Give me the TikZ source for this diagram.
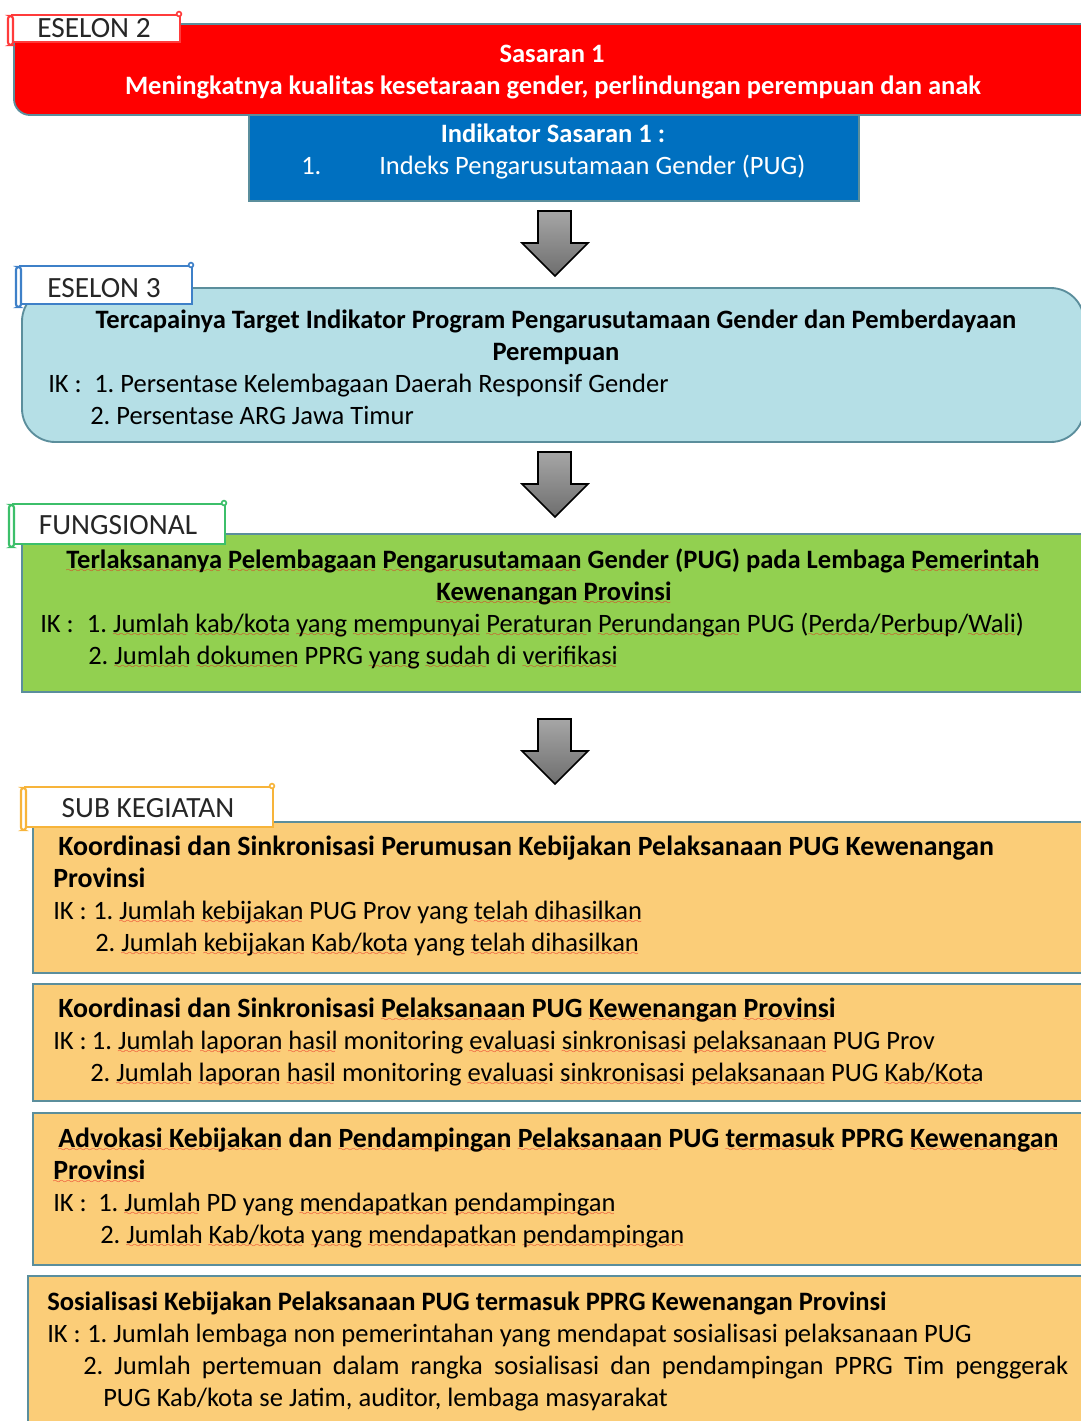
\documentclass[tikz,border=0pt]{standalone}
\usepackage{fontspec}
\setmainfont{Carlito}

\definecolor{frameline}{HTML}{5B8E9C}
\definecolor{redfill}{HTML}{FF0000}
\definecolor{bluefill}{HTML}{0070C0}
\definecolor{skyfill}{HTML}{B5DFE6}
\definecolor{greenfill}{HTML}{92D050}
\definecolor{goldfill}{HTML}{FBCD78}
\definecolor{tabred}{HTML}{FF3B3B}
\definecolor{tabblue}{HTML}{3E80C8}
\definecolor{tabgreen}{HTML}{3CBF6A}
\definecolor{tabgold}{HTML}{F7B43A}
\definecolor{tabtext}{HTML}{262626}
\definecolor{spellred}{HTML}{E8231E}
\definecolor{arrowtop}{HTML}{A6A6A6}
\definecolor{arrowbot}{HTML}{6E6E6E}

% wavy red underline for flagged words
\font\wavefont=lasy6
\newsavebox\spellbox
\newcommand\spellmark[1]{%
  \sbox\spellbox{#1}%
  \rlap{\hbox to \wd\spellbox{\leaders\hbox{\textcolor{spellred}{\lower3.5pt\hbox{\wavefont\char58}}}\hfill}}%
  \usebox\spellbox}
\newcommand\bodyfont{\fontsize{19.9}{24}\selectfont\frenchspacing}
\newcommand\headfont{\fontsize{20.9}{25}\selectfont\bfseries\frenchspacing}
\newcommand\tabfont{\fontsize{22}{26}\selectfont}

% scroll-shaped label tab: x1 y1 x2 y2 colour
\newcommand\scrolltab[5]{%
  \draw[#5, line width=1.6, fill=white] ({#1+4},{#2+2}) rectangle (#3,{#4-3});
  \draw[#5, line width=1.6, fill=white, rounded corners=2] (#1,{#2+3}) rectangle ({#1+5},#4);
  \draw[#5, line width=1.2, fill=white] ({#3-1},{#2+1}) circle (2.4);
}

% block arrow pointing down, top edge at y
\newcommand\blockarrow[1]{%
  \draw[black, line width=1.2, top color=arrowtop, bottom color=arrowbot]
    (538,#1) -- (571,#1) -- (571,{#1+32}) -- (588,{#1+32}) -- (555,{#1+65})
    -- (522,{#1+32}) -- (538,{#1+32}) -- cycle;
}

\begin{document}
\begin{tikzpicture}[x=0.75pt,y=-0.75pt,
  txt/.style={anchor=base west, inner sep=0pt, font=\bodyfont},
  ctr/.style={anchor=base, inner sep=0pt, font=\bodyfont},
  head/.style={anchor=base west, inner sep=0pt, font=\headfont},
  tablabel/.style={anchor=base, inner sep=0pt, font=\tabfont, text=tabtext},
  box/.style={draw=frameline, line width=1.4}]

\useasboundingbox (0,0) rectangle (1081,1421);
\clip (0,0) rectangle (1081,1421);

% ---------------- ESELON 2 ----------------
\draw[box, fill=redfill, rounded corners=12] (14,24) rectangle (1100,115);
\draw[box, fill=bluefill] (249,115) rectangle (859,201);
\scrolltab{8}{13}{180}{45}{tabred}
\node[tablabel] (t2) at (94,37) {ESELON 2};
\node[ctr, text=white, font=\bodyfont\bfseries] (s1a) at (552,62) {Sasaran 1};
\node[ctr, text=white, font=\bodyfont\bfseries] (s1b) at (553,94)
  {Meningkatnya kualitas kesetaraan gender, perlindungan perempuan dan anak};
\node[ctr, text=white, font=\bodyfont\bfseries] (i1a) at (553,142) {Indikator Sasaran 1 :};
\node[txt, text=white] (i1b) at (301,174)
  {\makebox[58.5pt][l]{1.}Indeks Pengarusutamaan Gender (PUG)};

\blockarrow{211}

% ---------------- ESELON 3 ----------------
\draw[box, fill=skyfill, rounded corners=25] (22,288) rectangle (1084,442);
\scrolltab{16}{264}{192}{307}{tabblue}
\node[tablabel] (t3) at (104,297) {ESELON 3};
\node[ctr, font=\bodyfont\bfseries] (e3a) at (556,328)
  {Tercapainya Target Indikator Program Pengarusutamaan Gender dan Pemberdayaan};
\node[ctr, font=\bodyfont\bfseries] (e3b) at (556,360) {Perempuan};
\node[txt] (e3c) at (48,392)
  {\makebox[34.5pt][l]{IK :}1. Persentase Kelembagaan Daerah Responsif Gender};
\node[txt] (e3d) at (90,424) {2. Persentase ARG Jawa Timur};

\blockarrow{452}

% ---------------- FUNGSIONAL ----------------
\draw[box, fill=greenfill] (22,534) rectangle (1100,692);
\scrolltab{9}{502}{225}{547}{tabgreen}
\node[tablabel] (tf) at (118,534) {FUNGSIONAL};
\node[ctr, font=\bodyfont\bfseries] (fa) at (553,568)
  {\spellmark{Terlaksananya} \spellmark{Pelembagaan} \spellmark{Pengarusutamaan} Gender (PUG) pada Lembaga \spellmark{Pemerintah}};
\node[ctr, font=\bodyfont\bfseries] (fb) at (554,600)
  {\spellmark{Kewenangan} \spellmark{Provinsi}};
\node[txt] (fc) at (40,632)
  {\makebox[35pt][l]{IK :}1. \spellmark{Jumlah} \spellmark{kab/kota} \spellmark{yang} \spellmark{mempunyai} \spellmark{Peraturan} \spellmark{Perundangan} PUG (\spellmark{Perda}/\spellmark{Perbup}/\spellmark{Wali})};
\node[txt] (fd) at (88,664)
  {2. \spellmark{Jumlah} \spellmark{dokumen} PPRG \spellmark{yang} \spellmark{sudah} di \spellmark{verifikasi}};

\blockarrow{719}

% ---------------- SUB KEGIATAN ----------------
\draw[box, fill=goldfill] (33,822) rectangle (1100,973);
\scrolltab{21}{785}{273}{830}{tabgold}
\node[tablabel] (ts) at (148,817) {SUB KEGIATAN};
\node[head] (k1a) at (58,855)
  {Koordinasi dan Sinkronisasi Perumusan Kebijakan Pelaksanaan PUG Kewenangan};
\node[head] (k1b) at (53,887) {Provinsi};
\node[txt] (k1c) at (53,919)
  {\makebox[30pt][l]{IK :}1. \spellmark{Jumlah} \spellmark{kebijakan} PUG Prov yang \spellmark{telah} \spellmark{dihasilkan}};
\node[txt] (k1d) at (95,951)
  {2. \spellmark{Jumlah} \spellmark{kebijakan} \spellmark{Kab/kota} yang \spellmark{telah} \spellmark{dihasilkan}};

\draw[box, fill=goldfill] (33,984) rectangle (1100,1101);
\node[head] (k2a) at (58,1017)
  {Koordinasi dan Sinkronisasi \spellmark{Pelaksanaan} PUG \spellmark{Kewenangan} \spellmark{Provinsi}};
\node[txt] (k2b) at (53,1049)
  {\makebox[29pt][l]{IK :}1. \spellmark{Jumlah} \spellmark{laporan} \spellmark{hasil} monitoring \spellmark{evaluasi} \spellmark{sinkronisasi} \spellmark{pelaksanaan} PUG Prov};
\node[txt] (k2c) at (90,1081)
  {2. \spellmark{Jumlah} \spellmark{laporan} \spellmark{hasil} monitoring \spellmark{evaluasi} \spellmark{sinkronisasi} \spellmark{pelaksanaan} PUG \spellmark{Kab/Kota}};

\draw[box, fill=goldfill] (33,1113) rectangle (1100,1265);
\node[head] (k3a) at (58,1147)
  {\spellmark{Advokasi Kebijakan} dan \spellmark{Pendampingan} \spellmark{Pelaksanaan} PUG \spellmark{termasuk} PPRG \spellmark{Kewenangan}};
\node[head] (k3b) at (53,1179) {\spellmark{Provinsi}};
\node[txt] (k3c) at (53,1211)
  {\makebox[33.75pt][l]{IK :}1. \spellmark{Jumlah} PD yang \spellmark{mendapatkan} \spellmark{pendampingan}};
\node[txt] (k3d) at (100,1243)
  {2. \spellmark{Jumlah} \spellmark{Kab/kota} \spellmark{yang} \spellmark{mendapatkan} \spellmark{pendampingan}};

\draw[box, fill=goldfill] (28,1276) rectangle (1100,1440);
\node[txt, font=\bodyfont\bfseries] (k4a) at (47,1310)
  {Sosialisasi Kebijakan Pelaksanaan PUG termasuk PPRG Kewenangan Provinsi};
\node[txt] (k4b) at (47,1342)
  {\makebox[30pt][l]{IK :}1. Jumlah lembaga non pemerintahan yang mendapat sosialisasi pelaksanaan PUG};
\node[txt] (k4c) at (83,1374)
  {\makebox[738.75pt][s]{2. Jumlah pertemuan dalam rangka sosialisasi dan pendampingan PPRG Tim penggerak}};
\node[txt] (k4d) at (103,1406) {PUG Kab/kota se Jatim, auditor, lembaga masyarakat};

\end{tikzpicture}
\end{document}
